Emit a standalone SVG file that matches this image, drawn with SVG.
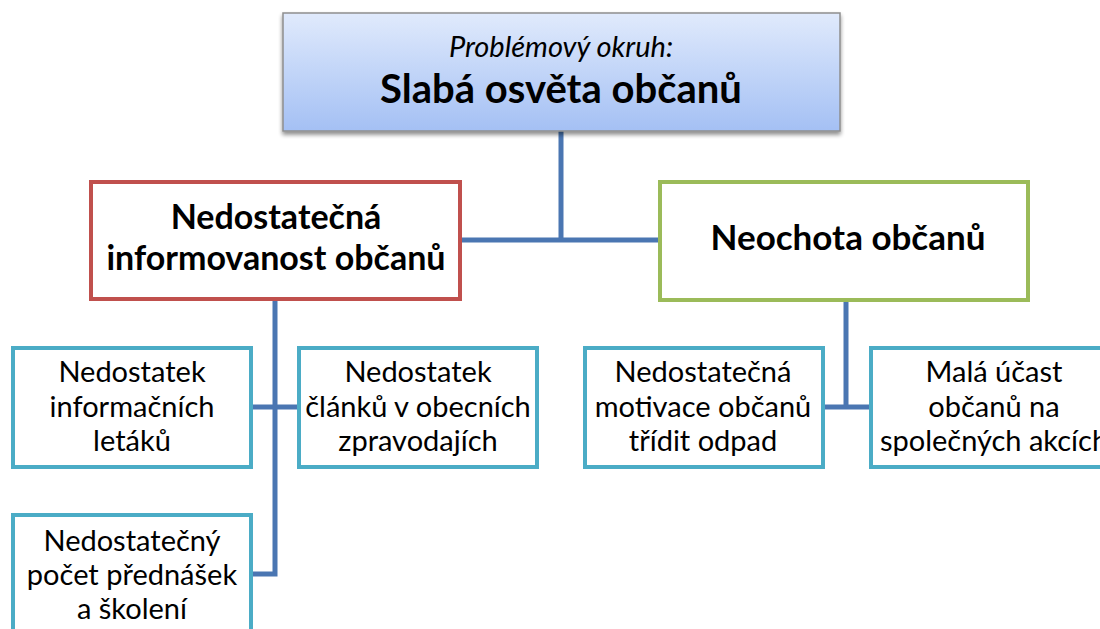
<svg xmlns="http://www.w3.org/2000/svg" width="1100" height="629" viewBox="0 0 1100 629">
<defs>
<linearGradient id="gTop" x1="0" y1="0" x2="0" y2="1">
<stop offset="0" stop-color="#e0eafc"/>
<stop offset="1" stop-color="#a4c0f4"/>
</linearGradient>
<filter id="sh" x="-5%" y="-10%" width="110%" height="130%">
<feGaussianBlur in="SourceAlpha" stdDeviation="2"/>
<feOffset dx="0" dy="3" result="b"/>
<feComponentTransfer><feFuncA type="linear" slope="0.45"/></feComponentTransfer>
<feMerge><feMergeNode/><feMergeNode in="SourceGraphic"/></feMerge>
</filter>
</defs>
<style>
.t{font-family:Lato,"Noto Sans","Liberation Sans",sans-serif;fill:#000;text-anchor:middle}
.b{font-weight:bold}
.s{font-size:29px}
.sub{fill:#fff;stroke:#4bacc6;stroke-width:4}
.ln{fill:none;stroke:#4a76b2;stroke-width:5}
</style>
<rect width="1100" height="629" fill="#fff"/>
<g id="connectors">
<path class="ln" d="M561 131V240M462 240H660"/>
<path class="ln" d="M275 299V574H251M251 407H299"/>
<path class="ln" d="M846 300V407M823 407H871"/>
</g>
<g id="root">
<rect x="283" y="13" width="557" height="118" fill="url(#gTop)" stroke="#8e8e8e" stroke-width="1.5" filter="url(#sh)"/>
<text class="t" x="561" y="57" font-size="29" font-style="italic">Problémový okruh:</text>
<text class="t b" x="561" y="103" font-size="40">Slabá osvěta občanů</text>
</g>
<g id="n-info">
<rect x="91" y="182" width="369" height="117" fill="#fff" stroke="#c0504d" stroke-width="4"/>
<text class="t b" x="276" y="229" font-size="34">Nedostatečná</text>
<text class="t b" x="276" y="270" font-size="34">informovanost občanů</text>
</g>
<g id="n-neochota">
<rect x="660" y="182" width="368" height="118" fill="#fff" stroke="#9bbb59" stroke-width="4"/>
<text class="t b" x="848" y="250" font-size="35">Neochota občanů</text>
</g>
<g id="n-letaky">
<rect class="sub" x="13" y="348" width="238" height="119"/>
<text class="t s" x="132" y="382">Nedostatek</text>
<text class="t s" x="132" y="417">informačních</text>
<text class="t s" x="132" y="451">letáků</text>
</g>
<g id="n-clanky">
<rect class="sub" x="299" y="348" width="238" height="119"/>
<text class="t s" x="418" y="382">Nedostatek</text>
<text class="t s" x="418" y="417">článků v obecních</text>
<text class="t s" x="418" y="451">zpravodajích</text>
</g>
<g id="n-prednasky">
<rect class="sub" x="13" y="515" width="238" height="130"/>
<text class="t s" x="132" y="551">Nedostatečný</text>
<text class="t s" x="132" y="585">počet přednášek</text>
<text class="t s" x="132" y="619">a školení</text>
</g>
<g id="n-motivace">
<rect class="sub" x="585" y="348" width="238" height="119"/>
<text class="t s" x="703" y="382">Nedostatečná</text>
<text class="t s" x="703" y="417">motivace občanů</text>
<text class="t s" x="703" y="451">třídit odpad</text>
</g>
<g id="n-ucast">
<rect class="sub" x="871" y="348" width="248" height="119"/>
<text class="t s" x="994" y="382">Malá účast</text>
<text class="t s" x="994" y="417">občanů na</text>
<text class="t s" x="994" y="451">společných akcích</text>
</g>
</svg>
